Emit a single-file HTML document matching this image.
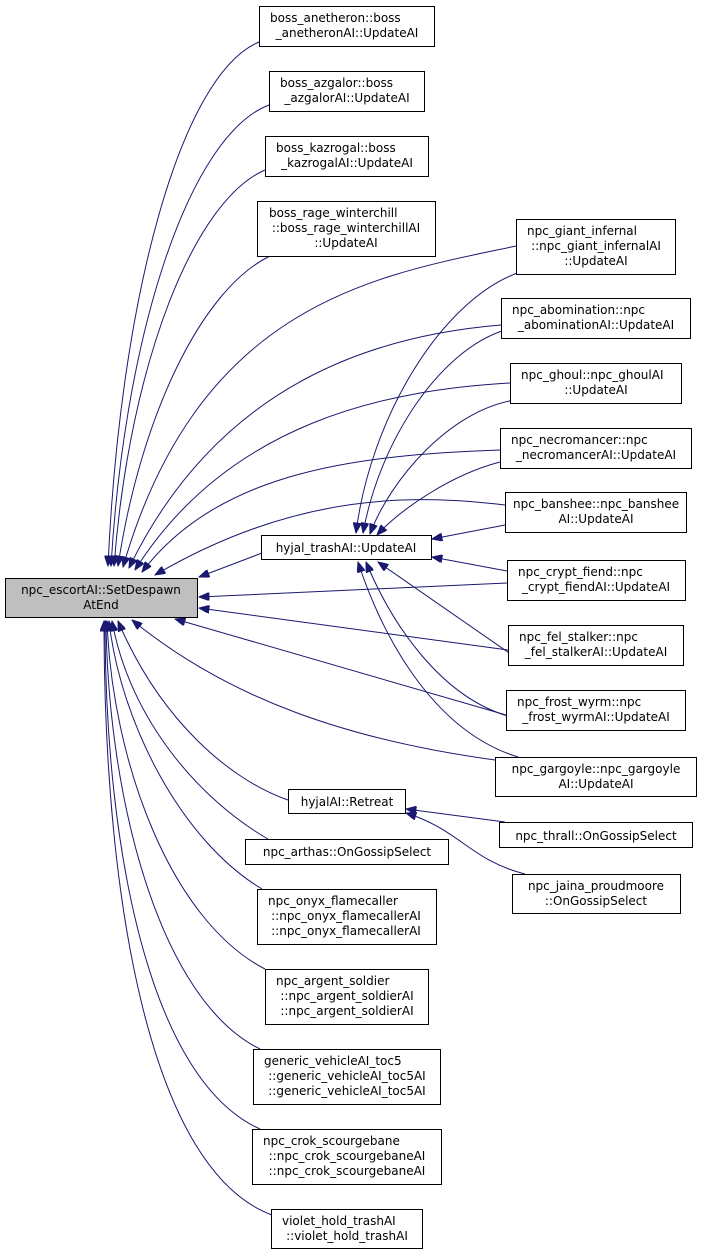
<!DOCTYPE html>
<html><head><meta charset="utf-8"><style>
html,body{margin:0;padding:0;background:#fff;}
svg{display:block;}
text{font-family:"DejaVu Sans","Liberation Sans",sans-serif;font-size:12px;fill:#000;}
rect{fill:#fff;stroke:#000;stroke-width:1;}
path.e{fill:none;stroke:#191970;stroke-width:1;}
</style></head><body>
<svg width="701" height="1255" viewBox="0 0 701 1255" xmlns="http://www.w3.org/2000/svg">
<defs><marker id="a" viewBox="0 0 10 8" refX="10" refY="4" markerWidth="11" markerHeight="8" markerUnits="userSpaceOnUse" orient="auto"><path d="M0,0 L10,4 L0,8 z" fill="#191970" stroke="#191970"/></marker></defs>

<path class="e" marker-end="url(#a)" d="M259,42 C180,75 120,300 108,566"/>
<path class="e" marker-end="url(#a)" d="M269,105 C190,135 125,330 111,566"/>
<path class="e" marker-end="url(#a)" d="M265,170 C195,200 130,360 114,566"/>
<path class="e" marker-end="url(#a)" d="M270,256 C200,290 140,420 118,566"/>
<path class="e" marker-end="url(#a)" d="M516,246 C380,275 200,300 123,567"/>
<path class="e" marker-end="url(#a)" d="M501,325 C380,335 220,380 129,568"/>
<path class="e" marker-end="url(#a)" d="M510,383 C390,390 230,420 135,570"/>
<path class="e" marker-end="url(#a)" d="M500,450 C360,455 220,470 142,572"/>
<path class="e" marker-end="url(#a)" d="M505,505 C420,495 300,490 155,575"/>
<path class="e" marker-end="url(#a)" d="M262,553 L199,577"/>
<path class="e" marker-end="url(#a)" d="M507,583 L199,597"/>
<path class="e" marker-end="url(#a)" d="M508,650 L199,608"/>
<path class="e" marker-end="url(#a)" d="M506,715 L175,619"/>
<path class="e" marker-end="url(#a)" d="M495,760 C350,740 230,700 132,620"/>
<path class="e" marker-end="url(#a)" d="M288,800 C230,780 160,720 118,621"/>
<path class="e" marker-end="url(#a)" d="M268,839 C200,800 130,720 112,621"/>
<path class="e" marker-end="url(#a)" d="M262,889 C180,840 120,720 109,621"/>
<path class="e" marker-end="url(#a)" d="M265,969 C170,920 112,760 107,621"/>
<path class="e" marker-end="url(#a)" d="M260,1049 C160,1000 108,800 106,621"/>
<path class="e" marker-end="url(#a)" d="M260,1129 C150,1080 105,850 105,621"/>
<path class="e" marker-end="url(#a)" d="M272,1215 C150,1170 104,900 104,621"/>

<path class="e" marker-end="url(#a)" d="M520,272 C440,300 370,420 356,533"/>
<path class="e" marker-end="url(#a)" d="M505,330 C440,350 380,440 363,533"/>
<path class="e" marker-end="url(#a)" d="M515,400 C450,410 390,480 370,534"/>
<path class="e" marker-end="url(#a)" d="M500,462 C450,475 400,510 377,535"/>
<path class="e" marker-end="url(#a)" d="M505,525 L432,539"/>
<path class="e" marker-end="url(#a)" d="M507,571 L432,557"/>
<path class="e" marker-end="url(#a)" d="M512,655 L378,562"/>
<path class="e" marker-end="url(#a)" d="M515,718 C440,700 390,620 366,562"/>
<path class="e" marker-end="url(#a)" d="M518,757 C430,730 380,630 358,562"/>

<path class="e" marker-end="url(#a)" d="M505,822 L406,809"/>
<path class="e" marker-end="url(#a)" d="M525,874 C470,860 460,830 406,813"/>

<rect x="5.5" y="578.5" width="192" height="39" style="fill:#bfbfbf"/>
<text x="101" y="594" text-anchor="middle">npc_escortAI::SetDespawn</text>
<text x="101" y="609" text-anchor="middle">AtEnd</text>

<rect x="259.5" y="6.5" width="175" height="40"/>
<text x="270" y="22">boss_anetheron::boss</text>
<text x="347" y="37" text-anchor="middle">_anetheronAI::UpdateAI</text>

<rect x="269.5" y="71.5" width="155" height="40"/>
<text x="280" y="87">boss_azgalor::boss</text>
<text x="347" y="102" text-anchor="middle">_azgalorAI::UpdateAI</text>

<rect x="265.5" y="136.5" width="163" height="40"/>
<text x="276" y="152">boss_kazrogal::boss</text>
<text x="347" y="167" text-anchor="middle">_kazrogalAI::UpdateAI</text>

<rect x="257.5" y="201.5" width="178" height="55"/>
<text x="269" y="217">boss_rage_winterchill</text>
<text x="346" y="232" text-anchor="middle">::boss_rage_winterchillAI</text>
<text x="346" y="247" text-anchor="middle">::UpdateAI</text>

<rect x="516.5" y="219.5" width="159" height="55"/>
<text x="527" y="235">npc_giant_infernal</text>
<text x="596" y="250" text-anchor="middle">::npc_giant_infernalAI</text>
<text x="596" y="265" text-anchor="middle">::UpdateAI</text>

<rect x="501.5" y="298.5" width="189" height="40"/>
<text x="512" y="314">npc_abomination::npc</text>
<text x="596" y="329" text-anchor="middle">_abominationAI::UpdateAI</text>

<rect x="510.5" y="363.5" width="171" height="40"/>
<text x="521" y="379">npc_ghoul::npc_ghoulAI</text>
<text x="596" y="394" text-anchor="middle">::UpdateAI</text>

<rect x="500.5" y="428.5" width="191" height="40"/>
<text x="511" y="444">npc_necromancer::npc</text>
<text x="596" y="459" text-anchor="middle">_necromancerAI::UpdateAI</text>

<rect x="505.5" y="492.5" width="181" height="40"/>
<text x="513" y="508">npc_banshee::npc_banshee</text>
<text x="596" y="523" text-anchor="middle">AI::UpdateAI</text>

<rect x="261.5" y="535.5" width="170" height="24"/>
<text x="346" y="552" text-anchor="middle">hyjal_trashAI::UpdateAI</text>

<rect x="507.5" y="560.5" width="178" height="40"/>
<text x="518" y="576">npc_crypt_fiend::npc</text>
<text x="596" y="591" text-anchor="middle">_crypt_fiendAI::UpdateAI</text>

<rect x="508.5" y="625.5" width="175" height="40"/>
<text x="519" y="641">npc_fel_stalker::npc</text>
<text x="596" y="656" text-anchor="middle">_fel_stalkerAI::UpdateAI</text>

<rect x="506.5" y="690.5" width="179" height="40"/>
<text x="517" y="706">npc_frost_wyrm::npc</text>
<text x="596" y="721" text-anchor="middle">_frost_wyrmAI::UpdateAI</text>

<rect x="495.5" y="757.5" width="201" height="39"/>
<text x="596" y="773" text-anchor="middle">npc_gargoyle::npc_gargoyle</text>
<text x="596" y="788" text-anchor="middle">AI::UpdateAI</text>

<rect x="288.5" y="789.5" width="117" height="24"/>
<text x="347" y="806" text-anchor="middle">hyjalAI::Retreat</text>

<rect x="499.5" y="822.5" width="193" height="25"/>
<text x="596" y="840" text-anchor="middle">npc_thrall::OnGossipSelect</text>

<rect x="512.5" y="874.5" width="168" height="39"/>
<text x="596" y="890" text-anchor="middle">npc_jaina_proudmoore</text>
<text x="596" y="905" text-anchor="middle">::OnGossipSelect</text>

<rect x="245.5" y="839.5" width="203" height="25"/>
<text x="347" y="856" text-anchor="middle">npc_arthas::OnGossipSelect</text>

<rect x="257.5" y="889.5" width="179" height="55"/>
<text x="268" y="905">npc_onyx_flamecaller</text>
<text x="346" y="920" text-anchor="middle">::npc_onyx_flamecallerAI</text>
<text x="346" y="935" text-anchor="middle">::npc_onyx_flamecallerAI</text>

<rect x="265.5" y="969.5" width="163" height="55"/>
<text x="276" y="985">npc_argent_soldier</text>
<text x="347" y="1000" text-anchor="middle">::npc_argent_soldierAI</text>
<text x="347" y="1015" text-anchor="middle">::npc_argent_soldierAI</text>

<rect x="253.5" y="1049.5" width="187" height="55"/>
<text x="264" y="1065">generic_vehicleAI_toc5</text>
<text x="347" y="1080" text-anchor="middle">::generic_vehicleAI_toc5AI</text>
<text x="347" y="1095" text-anchor="middle">::generic_vehicleAI_toc5AI</text>

<rect x="252.5" y="1129.5" width="189" height="55"/>
<text x="263" y="1145">npc_crok_scourgebane</text>
<text x="347" y="1160" text-anchor="middle">::npc_crok_scourgebaneAI</text>
<text x="347" y="1175" text-anchor="middle">::npc_crok_scourgebaneAI</text>

<rect x="271.5" y="1209.5" width="151" height="39"/>
<text x="282" y="1225">violet_hold_trashAI</text>
<text x="347" y="1240" text-anchor="middle">::violet_hold_trashAI</text>
</svg>
</body></html>
